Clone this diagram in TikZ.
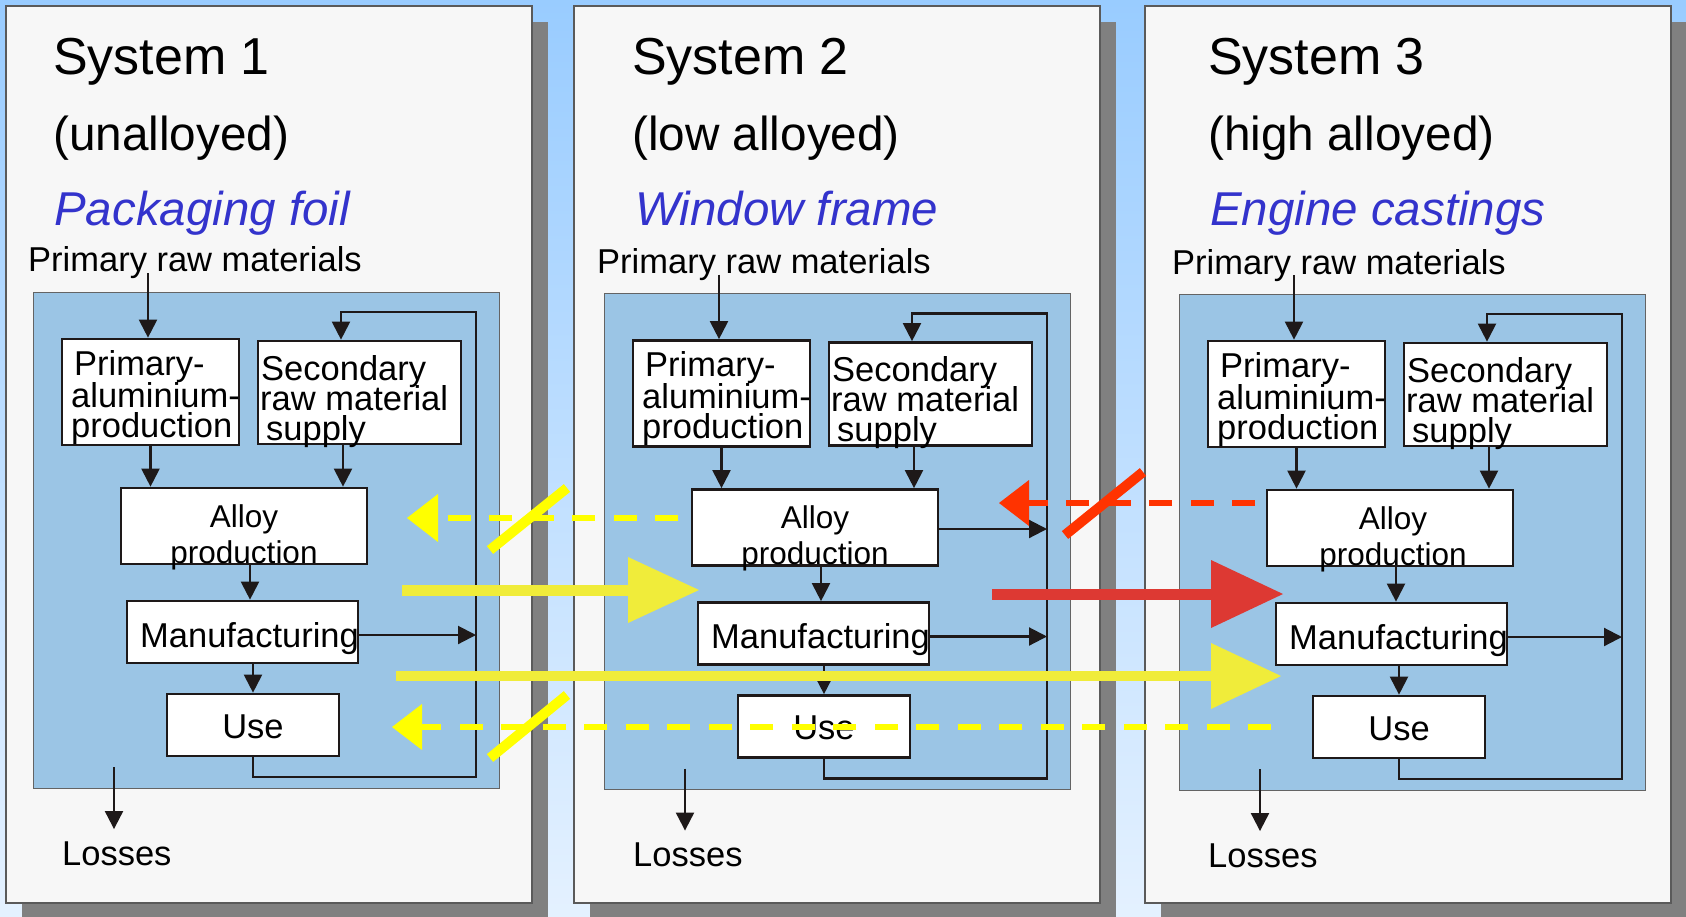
\documentclass[tikz,border=0pt]{standalone}
\usepackage{fontspec}
\setmainfont{Liberation Sans}
\usetikzlibrary{arrows.meta,calc}
\definecolor{bgtop}{RGB}{153,204,255}
\definecolor{bgbot}{RGB}{228,241,255}
\definecolor{panelfill}{RGB}{247,247,247}
\definecolor{panelline}{RGB}{90,90,90}
\definecolor{shadowgray}{RGB}{128,128,128}
\definecolor{innerblue}{RGB}{155,197,229}
\definecolor{innerline}{RGB}{100,100,100}
\definecolor{titleblue}{RGB}{51,51,204}
\definecolor{ylwpure}{RGB}{255,255,0}
\definecolor{ylwsolid}{RGB}{240,236,58}
\definecolor{redpure}{RGB}{255,51,0}
\definecolor{redsolid}{RGB}{221,57,51}
\definecolor{ink}{RGB}{30,25,25}
\tikzset{
  panel/.style={draw=panelline, line width=1.3pt, fill=panelfill, inner sep=0},
  innerbox/.style={draw=innerline, line width=1pt, fill=innerblue, inner sep=0},
  procbox/.style={draw=ink, line width=2.7pt, fill=white, inner sep=0},
  arr/.style={draw=ink, line width=2.1pt, -{Triangle[length=18pt,width=18pt]}},
  bodytxt/.style={font=\fontsize{34.5}{40}\selectfont, inner sep=0, text=black},
  alloytxt/.style={font=\fontsize{31.5}{36}\selectfont, inner sep=0, anchor=base, text=black},
  systxt/.style={font=\fontsize{52}{60}\selectfont, inner sep=0, anchor=base west},
  subtxt/.style={font=\fontsize{47.7}{55}\selectfont, inner sep=0, anchor=base west},
  apptxt/.style={font=\fontsize{47.5}{55}\selectfont\itshape, inner sep=0, anchor=base west, text=titleblue},
  ydash/.style={draw=ylwpure, line width=6pt, dash pattern=on 23pt off 18.5pt},
  rdash/.style={draw=redpure, line width=6pt, dash pattern=on 23pt off 18.5pt},
  yslash/.style={draw=ylwpure, line width=10pt},
  rslash/.style={draw=redpure, line width=10pt},
}
\newcommand{\flowpanel}[2]{%
  \node[innerbox, minimum width=466pt, minimum height=496pt] (#1inner) at (266,540) {};
  \node[procbox, minimum width=177pt, minimum height=106pt] (#1prim) at (150.5,392) {};
  \node[procbox, minimum width=203pt, minimum height=103pt] (#1sec) at (359.5,392.5) {};
  \node[procbox, minimum width=246pt, minimum height=76pt] (#1alloy) at (244,526) {};
  \node[procbox, minimum width=231pt, minimum height=62pt] (#1manuf) at (242.5+#2,632) {};
  \node[procbox, minimum width=172pt, minimum height=62pt] (#1use) at (253,725) {};
  % texts
  \node[bodytxt, anchor=base west] (#1primA) at (74,375) {Primary-};
  \node[bodytxt, anchor=base west] (#1primB) at (71,407) {aluminium-};
  \node[bodytxt, anchor=base west] (#1primC) at (71,437) {production};
  \node[bodytxt, anchor=base west] (#1secA) at (261,380) {Secondary};
  \node[bodytxt, anchor=base west] (#1secB) at (260,410) {raw material};
  \node[bodytxt, anchor=base west] (#1secC) at (266,440) {supply};
  \node[alloytxt] (#1alloyA) at (244+#2,527) {Alloy};
  \node[alloytxt] (#1alloyB) at (244+#2,563) {production};
  \node[bodytxt, anchor=base west] (#1manufT) at (140+#2,647) {Manufacturing};
  \node[bodytxt, anchor=base] (#1useT) at (253,738) {Use};
  \node[bodytxt, anchor=base west] (#1losses) at (62,865) {Losses};
  % coordinates
  \coordinate (#1rawin) at (148,273);
  \coordinate (#1looptr) at (476,312);
  \coordinate (#1loopbr) at (476,777);
  \coordinate (#1secx) at (341,312);
  \coordinate (#1secout) at ([xshift=-16.5pt]#1sec.south);
  \coordinate (#1amout) at (250,564);
  \coordinate (#1muout) at (#1manuf.south -| #1use.north);
  \coordinate (#1mlout) at ([yshift=-3pt]#1manuf.east);
  \coordinate (#1lossA) at (114,767);
  % connectors
  \draw[arr] (#1rawin) -- (#1rawin |- #1prim.north);
  \draw[arr] (#1prim.south) -- (#1prim.south |- #1alloy.north);
  \draw[arr] (#1secout) -- (#1secout |- #1alloy.north);
  \draw[arr] (#1amout) -- (#1amout |- #1manuf.north);
  \draw[arr] (#1muout) -- (#1use.north);
  \draw[arr] (#1mlout) -- (#1mlout -| #1looptr);
  \draw[arr] (#1use.south) |- (#1loopbr) -- (#1looptr) -- (#1secx) -- (#1secx |- #1sec.north);
  \draw[arr, shorten >=12pt] (#1lossA) -- (#1lossA |- #1losses.north);
}
\begin{document}
\begin{tikzpicture}[x=1pt,y=-1pt]
\useasboundingbox (0,0) rectangle (1686,916);
\shade[top color=bgtop, bottom color=bgbot] (0,0) rectangle (1686,916);
% shadows
\fill[shadowgray] (22,22) rectangle (548,920);
\fill[shadowgray] (590,22) rectangle (1116,920);
\fill[shadowgray] (1161,22) rectangle (1690,920);
% panels
\node[panel, minimum width=526pt, minimum height=897pt] (panel1) at (269,454.5) {};
\node[panel, minimum width=526pt, minimum height=897pt] (panel2) at (837,454.5) {};
\node[panel, minimum width=526pt, minimum height=897pt] (panel3) at (1408,454.5) {};
% titles
\node[systxt] (t1a) at (53,74) {System 1};
\node[subtxt] (t1b) at (53,150) {(unalloyed)};
\node[apptxt] (t1c) at (54,225) {Packaging foil};
\node[bodytxt, anchor=base west] (raw1) at (28,271) {Primary raw materials};
\node[systxt] (t2a) at (632,74) {System 2};
\node[subtxt] (t2b) at (632,150) {(low alloyed)};
\node[apptxt] (t2c) at (635,225) {Window frame};
\node[bodytxt, anchor=base west] (raw2) at (597,273) {Primary raw materials};
\node[systxt] (t3a) at (1208,74) {System 3};
\node[subtxt] (t3b) at (1208,150) {(high alloyed)};
\node[apptxt] (t3c) at (1210,225) {Engine castings};
\node[bodytxt, anchor=base west] (raw3) at (1172,274) {Primary raw materials};
% flow systems
\begin{scope}\flowpanel{a}{0}\end{scope}
\begin{scope}[shift={(571,1.5)}]\flowpanel{b}{0}\end{scope}
\begin{scope}[shift={(1146,2)}]\flowpanel{c}{3}\end{scope}
\coordinate (balout) at ([yshift=-1.5pt]balloy.east);
\draw[arr] (balout) -- (balout -| blooptr);
% ---- big arrows ----
% A: yellow dashed, upper
\coordinate (yAs) at (678,518); \coordinate (yAb) at (438,518); \coordinate (yAt) at (407,518);
\draw[ydash] (yAs) -- (yAb);
\fill[ylwpure] (yAt) -- ([yshift=24pt]yAb) -- ([yshift=-24pt]yAb) -- cycle;
\coordinate (yAx1) at (490,550); \coordinate (yAx2) at (567,488);
\draw[yslash] (yAx1) -- (yAx2);
% B: yellow solid, short
\coordinate (yBs) at (402,590); \coordinate (yBb) at (628,590); \coordinate (yBt) at (699,590);
\draw[draw=ylwsolid, line width=11pt] (yBs) -- ([xshift=2pt]yBb);
\fill[ylwsolid] (yBt) -- ([yshift=33pt]yBb) -- ([yshift=-33pt]yBb) -- cycle;
% C: yellow solid, long
\coordinate (yCs) at (396,676); \coordinate (yCb) at (1211,676); \coordinate (yCt) at (1281,676);
\draw[draw=ylwsolid, line width=10pt] (yCs) -- ([xshift=2pt]yCb);
\fill[ylwsolid] (yCt) -- ([yshift=33pt]yCb) -- ([yshift=-33pt]yCb) -- cycle;
% D: yellow dashed, lower
\coordinate (yDs) at (1271,727); \coordinate (yDb) at (422,727); \coordinate (yDt) at (392,727);
\draw[ydash] (yDs) -- (yDb);
\fill[ylwpure] (yDt) -- ([yshift=23pt]yDb) -- ([yshift=-23pt]yDb) -- cycle;
\coordinate (yDx1) at (490,758); \coordinate (yDx2) at (567,695);
\draw[yslash] (yDx1) -- (yDx2);
% E: red dashed
\coordinate (rEs) at (1255,503); \coordinate (rEb) at (1029,503); \coordinate (rEt) at (999,503);
\draw[rdash] (rEs) -- (rEb);
\fill[redpure] (rEt) -- ([yshift=23pt]rEb) -- ([yshift=-23pt]rEb) -- cycle;
\coordinate (rEx1) at (1065,535); \coordinate (rEx2) at (1143,472);
\draw[rslash] (rEx1) -- (rEx2);
% F: red solid
\coordinate (rFs) at (992,594); \coordinate (rFb) at (1211,594); \coordinate (rFt) at (1283,594);
\draw[draw=redsolid, line width=11pt] (rFs) -- ([xshift=2pt]rFb);
\fill[redsolid] (rFt) -- ([yshift=34pt]rFb) -- ([yshift=-34pt]rFb) -- cycle;
\end{tikzpicture}
\end{document}
